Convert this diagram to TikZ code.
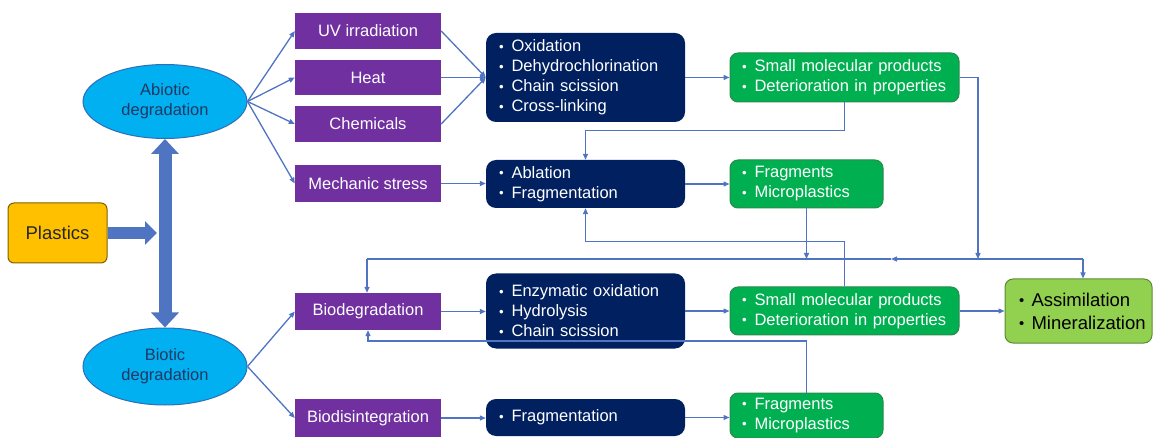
\documentclass[tikz,border=0pt]{standalone}
\usepackage{fontspec}
\setmainfont{Liberation Sans}
\usetikzlibrary{arrows.meta,shapes.geometric}
\hfuzz=40pt
\definecolor{cpurple}{HTML}{7030A0}
\definecolor{cnavy}{HTML}{002060}
\definecolor{cgreen}{HTML}{00B050}
\definecolor{cgreenB}{HTML}{2A8A4C}
\definecolor{clight}{HTML}{92D050}
\definecolor{clightB}{HTML}{5A8A32}
\definecolor{csky}{HTML}{00B0F0}
\definecolor{cskyB}{HTML}{2F6EBA}
\definecolor{cskyT}{HTML}{1F3864}
\definecolor{corange}{HTML}{FFC000}
\definecolor{corangeB}{HTML}{7F6000}
\definecolor{cline}{HTML}{4F74C2}
\newcommand{\bl}[1]{\mbox{\makebox[12.5pt][l]{\raisebox{0.5pt}{\scalebox{0.8}{\textbullet}}}#1}}
\begin{document}
\begin{tikzpicture}[x=1pt,y=-1pt,
  every node/.style={font=\fontsize{16.5}{20}\selectfont},
  pbox/.style={rectangle, fill=cpurple, text=white, minimum width=146pt, inner sep=0pt},
  nbox/.style={rectangle, rounded corners=10pt, fill=cnavy, text=white, align=left,
    inner xsep=13pt, inner ysep=0pt, text width=173pt},
  gbox/.style={rectangle, rounded corners=8pt, fill=cgreen, draw=cgreenB, line width=1pt,
    text=white, align=left, inner xsep=12pt, inner ysep=0pt},
  abox/.style={rectangle, rounded corners=8pt, fill=clight, draw=clightB, line width=1pt,
    text=black, align=left, inner xsep=14pt, inner ysep=0pt, text width=119pt,
    font=\fontsize{18.5}{23}\selectfont},
  ell/.style={ellipse, fill=csky, draw=cskyB, line width=1pt, text=cskyT, align=center,
    minimum width=164pt, inner sep=0pt},
  obox/.style={rectangle, rounded corners=6pt, fill=corange, draw=corangeB, line width=1pt,
    text=black!85, minimum width=99pt, minimum height=60pt, inner sep=0pt,
    font=\fontsize{18.5}{22}\selectfont},
  conn/.style={draw=cline, line width=1.3pt, -{Triangle[length=6pt,width=5pt]}},
  wire/.style={draw=cline, line width=1.3pt},
  bigarrow/.style={draw=cline, line width=13pt},
]
\useasboundingbox (0,0) rectangle (1154,438);

% nodes
\node[obox] (plastics) at (57.5,233) {Plastics};
\node[ell, minimum height=74pt] (abio) at (165,101.5) {Abiotic\\degradation};
\node[ell, minimum height=77pt] (bio) at (165,366.5) {Biotic\\degradation};

\node[pbox, minimum height=36pt] (uv) at (368,31) {UV irradiation};
\node[pbox, minimum height=35pt] (heat) at (368,77.5) {Heat};
\node[pbox, minimum height=36pt] (chem) at (368,124) {Chemicals};
\node[pbox, minimum height=37pt] (mech) at (368,183.5) {Mechanic stress};
\node[pbox, minimum height=37pt] (biodeg) at (368,311.5) {Biodegradation};
\node[pbox, minimum height=38pt] (biodis) at (368,418) {Biodisintegration};

\node[nbox, minimum height=89pt] (n1) at (585.5,77.5)
  {\bl{Oxidation}\\\bl{Dehydrochlorination}\\\bl{Chain scission}\\\bl{Cross-linking}};
\node[nbox, minimum height=48pt] (n2) at (585.5,184) {\bl{Ablation}\\\bl{Fragmentation}};
\node[nbox, minimum height=75pt] (n3) at (585.5,311)
  {\bl{Enzymatic oxidation}\\\bl{Hydrolysis}\\\bl{Chain scission}};
\node[nbox, minimum height=37pt] (n4) at (585.5,417.5) {\bl{Fragmentation}};

\node[gbox, text width=205pt, minimum height=49pt] (g1) at (844.5,77.5)
  {\bl{Small molecular products}\\\bl{Deterioration in properties}};
\node[gbox, text width=129pt, minimum height=48pt] (g2) at (806.5,184)
  {\bl{Fragments}\\\bl{Microplastics}};
\node[gbox, text width=205pt, minimum height=48pt] (g3) at (844.5,311)
  {\bl{Small molecular products}\\\bl{Deterioration in properties}};
\node[gbox, text width=129pt, minimum height=45pt] (g4) at (806.5,415.5)
  {\bl{Fragments}\\\bl{Microplastics}};
\node[abox, minimum height=64pt] (assim) at (1078.5,311) {\bl{Assimilation}\\\bl{Mineralization}};

% junction coordinates
\coordinate (pj) at (157,233);
\coordinate (busL) at (367,259);
\coordinate (busR) at (1083,259);
\coordinate (busM) at (891,259);
\coordinate (j1) at (978,259);
\coordinate (j2) at (806.5,259);

% thick arrows
\draw[bigarrow, {Triangle[length=15pt,width=27pt]}-{Triangle[length=15pt,width=27pt]}] (abio.south) -- (bio.north);
\draw[draw=cline, line width=12pt, -{Triangle[length=12pt,width=23pt]}] (plastics.east) -- (pj);

% fan-out
\foreach \t in {uv,heat,chem,mech} \draw[conn] (abio.east) -- (\t.west);
\foreach \t in {biodeg,biodis} \draw[conn] (bio.east) -- (\t.west);

% fan-in
\foreach \s in {uv,heat,chem} \draw[conn] (\s.east) -- (n1.west);
\draw[conn] (mech.east) -- (mech.east -| n2.west);
\draw[conn] (biodeg.east) -- (biodeg.east -| n3.west);
\draw[conn] (biodis.east) -- (biodis.east -| n4.west);

\draw[conn] (n1.east) -- (n1.east -| g1.west);
\draw[conn] (n2.east) -- (n2.east -| g2.west);
\draw[conn] (n3.east) -- (n3.east -| g3.west);
\draw[conn] (n4.east) -- (n4.east -| g4.west);
\draw[conn] (g3.east) -- (g3.east -| assim.west);

% feedback loops
\draw[conn] (g1.south) -- ++(0,28) -| (n2.north);
\draw[conn] (g3.north) -- ++(0,-45) -| (n2.south);
\draw[conn] (g4.north) -- ++(0,-51.5) -| (biodeg.south);

% bus
\draw[conn] (g1.east) -| (j1);
\draw[conn] (g2.south) -- (j2);
\draw[conn] (busR) -- (busM);
\draw[wire] (busM) -- (busL);
\draw[conn] (busR) -- (busR |- assim.north);
\draw[conn] (busL) -- (busL |- biodeg.north);
\end{tikzpicture}
\end{document}
